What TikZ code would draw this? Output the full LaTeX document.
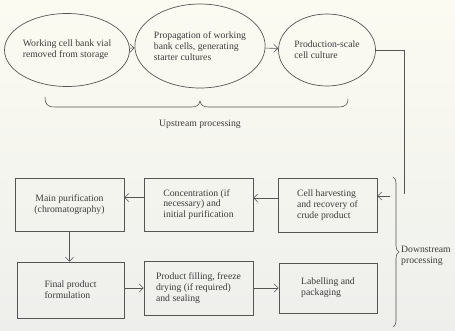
\documentclass[tikz,border=0pt]{standalone}
\usepackage{fontspec}
\setmainfont{Liberation Serif}
\usetikzlibrary{shapes.geometric,arrows.meta,decorations.pathreplacing}
\definecolor{paperTop}{RGB}{252,251,242}
\definecolor{paperBot}{RGB}{238,239,236}
\definecolor{ink}{RGB}{60,60,60}
\definecolor{wire}{RGB}{85,85,85}
\begin{document}
\begin{tikzpicture}[x=1pt,y=-1pt,
  font=\fontsize{9.7}{10.8}\selectfont,
  stage/.style={ellipse, draw=wire, line width=0.7pt, inner sep=0pt, align=left, text=ink},
  stepbox/.style={rectangle, draw=wire, line width=0.7pt, inner sep=0pt, align=left, text=ink},
  lbl/.style={text=ink, inner sep=0pt, align=left},
  wireline/.style={draw=wire, line width=0.6pt},
  arr/.style={wireline, -{Straight Barb[length=4pt,width=8pt]}}]
\shade[top color=paperTop, bottom color=paperBot] (0,0) rectangle (455,330);
\useasboundingbox (0,0) rectangle (455,330);

% upstream stages
\node[stage, minimum width=110pt, minimum height=73pt] (wcb) at (67,50) {Working cell bank vial\\removed from storage};
\node[stage, minimum width=118pt, minimum height=84pt] (prop) at (200,46) {Propagation of working\\bank cells, generating\\starter cultures};
\node[stage, minimum width=97pt, minimum height=72pt] (cult) at (327,50) {Production-scale\\cell culture};

\draw[arr] (wcb) -- (prop);
\draw[arr] (prop) -- (cult);

% upstream brace
\draw[wireline] (45,97) .. controls (45,104) and (47,107) .. (55,107) -- (192,107)
  .. controls (197,107) and (199,105) .. (200,101)
  .. controls (201,105) and (203,107) .. (208,107) -- (338,107)
  .. controls (346,107) and (348,104) .. (348,99);
\node[lbl] (uplbl) at (200,124) {Upstream processing};

% downstream boxes
\node[stepbox, minimum width=109pt, minimum height=53pt, align=center] (main) at (69.5,204.5) {Main purification\\(chromatography)};
\node[stepbox, minimum width=109pt, minimum height=53pt] (conc) at (198.5,204.5) {Concentration (if\\necessary) and\\initial purification};
\node[stepbox, minimum width=99pt, minimum height=54pt] (harv) at (327.5,205) {Cell harvesting\\and recovery of\\crude product};
\node[stepbox, minimum width=107pt, minimum height=56pt] (form) at (70.5,290) {Final product\\formulation};
\node[stepbox, minimum width=109pt, minimum height=54pt] (fill) at (198.5,288) {Product filling, freeze\\drying (if required)\\and sealing};
\node[stepbox, minimum width=98pt, minimum height=50pt] (pack) at (328,288) {Labelling and\\packaging};

% feed from culture to harvesting
\coordinate (dsin) at (404,194);
\draw[wireline] (cult.east) -| (dsin);
\coordinate (harvtail) at (390,196);
\draw[arr] (harvtail) -- (harvtail -| harv.east);

\draw[arr] ([yshift=7pt]harv.west) -- ([yshift=7pt]harv.west -| conc.east);
\draw[arr] ([yshift=7pt]conc.west) -- ([yshift=7pt]conc.west -| main.east);
\draw[arr] (main.south) -- (main.south |- form.north);
\draw[arr] (form.east |- fill.west) -- (fill.west);
\draw[arr] (fill.east) -- (pack.west |- fill.east);

% downstream brace
\draw[wireline, decorate, decoration={brace, amplitude=6pt}] (393,177) -- (393,327);
\node[lbl, anchor=west] (dnlbl) at (401,256) {Downstream\\processing};
\end{tikzpicture}
\end{document}
